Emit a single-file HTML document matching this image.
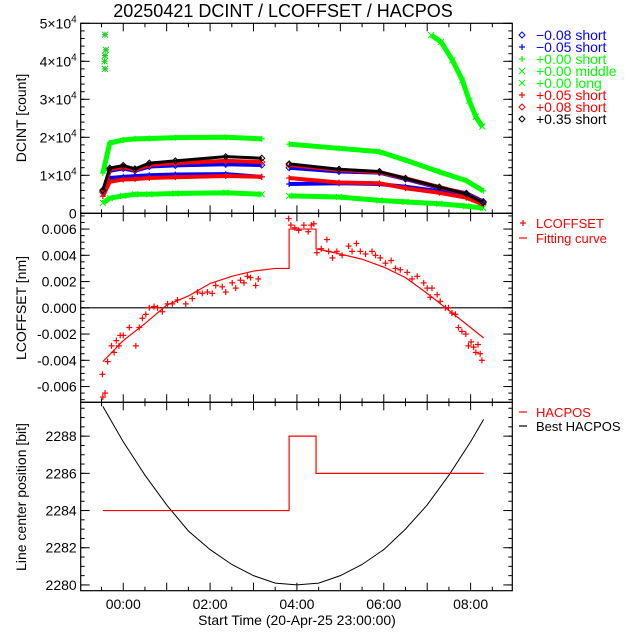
<!DOCTYPE html>
<html><head><meta charset="utf-8"><style>
html,body{margin:0;padding:0;background:#fff}
svg{display:block;font-family:"Liberation Sans",sans-serif}
</style></head><body>
<svg id="chart" width="640" height="640" viewBox="0 0 640 640" xmlns="http://www.w3.org/2000/svg">
<rect width="640" height="640" fill="#fff"/>
<text x="283" y="17" font-size="18" text-anchor="middle">20250421 DCINT / LCOFFSET / HACPOS</text>
<text x="297" y="625" font-size="14" text-anchor="middle">Start Time (20-Apr-25 23:00:00)</text>
<text transform="translate(26,118) rotate(-90)" font-size="14" text-anchor="middle">DCINT [count]</text>
<text transform="translate(26,308) rotate(-90)" font-size="14" text-anchor="middle">LCOFFSET [nm]</text>
<text transform="translate(26,497) rotate(-90)" font-size="14" text-anchor="middle">Line center position [bit]</text>
<g id="g"></g>
</svg>
<script>
// ---------- data ----------
const xTickHours = [0, 2, 4, 6, 8];
const xTickLabels = ["00:00", "02:00", "04:00", "06:00", "08:00"];
const dcTicks = [0, 10000, 20000, 30000, 40000, 50000];
const dcTickLabels = ["0", "1", "2", "3", "4", "5"];
const lcTicks = [-0.006, -0.004, -0.002, 0, 0.002, 0.004, 0.006];
const lcTickLabels = ["-0.006", "-0.004", "-0.002", "0.000", "0.002", "0.004", "0.006"];
const hcTicks = [2280, 2282, 2284, 2286, 2288];
const hcTickLabels = ["2280", "2282", "2284", "2286", "2288"];

const seg1T = [-0.47, -0.31, 0.0, 0.27, 0.6, 1.2, 2.36, 3.19];
const seg2T = [3.82, 4.97, 5.9, 6.5, 7.28, 7.9, 8.29];
const greenTop1 = [10600, 18500, 19300, 19600, 19700, 19900, 20000, 19600];
const greenTop2 = [18200, 17100, 16200, 14000, 10900, 8600, 5900];
const black1 = [6100, 11900, 12600, 11700, 13200, 13800, 14900, 14500];
const black2 = [13000, 11600, 11000, 9200, 6900, 5100, 2800];
const redDia1 = [5500, 11500, 12200, 11400, 12700, 13200, 13800, 13500];
const redDia2 = [12700, 11400, 10800, 9200, 6900, 5100, 2800];
const blueDia1 = [5800, 11200, 11800, 11200, 12300, 12600, 12900, 12700];
const blueDia2 = [12000, 11000, 10700, 9000, 6700, 5300, 3100];
const redPlus1 = [4500, 8300, 8900, 9000, 9300, 9500, 9800, 9600];
const redPlus2 = [9300, 8100, 7900, 6600, 5400, 4100, 2300];
const bluePlus1 = [5500, 9300, 9600, 9800, 10000, 10200, 10300, 9600];
const bluePlus2 = [7700, 7900, 7700, 7000, 5800, 4500, 2800];
const greenBot1 = [2700, 4000, 4600, 5000, 5000, 5200, 5400, 5000];
const greenBot2 = [4600, 4300, 3400, 3000, 2500, 1900, 1400];
const greenLongT = [7.09, 7.32, 7.58, 7.81, 7.97, 8.12, 8.27];
const greenLongV = [46900, 45100, 40300, 35000, 29600, 25400, 22800];
const outlierT = [-0.42, -0.4, -0.42, -0.43, -0.42];
const outlierV = [47000, 43000, 41500, 40000, 38000];

const lcT = [-0.48,-0.47,-0.42,-0.36,-0.27,-0.21,-0.16,-0.07,0,-0.1,0.14,0.29,0.37,0.44,0.52,0.6,0.71,0.79,0.9,1.02,1.13,1.25,1.44,1.59,1.71,1.82,1.94,2.05,2.13,2.28,2.36,2.51,2.59,2.7,2.78,2.86,2.93,3.05,3.11,
 3.81,3.86,3.95,4.04,4.16,4.26,4.33,4.39,4.46,4.56,4.69,4.73,4.82,4.92,5.04,5.19,5.27,5.37,5.46,5.58,5.73,5.81,5.92,6.04,6.17,6.27,6.38,6.54,6.65,6.77,6.92,7.0,7.11,7.07,7.23,7.3,7.42,7.49,7.57,7.65,7.72,7.8,7.89,7.95,8.01,8.07,8.17,8.12,8.22,8.26];
const lcV = [-0.00507,-0.0068,-0.0065,-0.0041,-0.0029,-0.0034,-0.0025,-0.0021,-0.0021,-0.0029,-0.0015,-0.0029,-0.0015,-0.0008,-0.0005,0.0,0.0001,0.0,-0.0003,0.0003,0.0003,0.0006,0.0003,0.0007,0.0012,0.0011,0.0012,0.0011,0.0017,0.0016,0.0012,0.0019,0.0015,0.0021,0.0019,0.0024,0.0023,0.0017,0.0022,
 0.0068,0.0063,0.0061,0.0059,0.0063,0.0058,0.0063,0.0064,0.0042,0.0045,0.0052,0.0043,0.0038,0.0043,0.0040,0.0047,0.0043,0.0049,0.0043,0.0041,0.0043,0.0040,0.0038,0.0034,0.0036,0.0030,0.0029,0.0027,0.0022,0.0024,0.0019,0.0015,0.0015,0.0008,0.0010,0.0005,0.0,0.0,-0.0004,-0.0005,-0.0015,-0.0018,-0.0020,-0.0029,-0.0026,-0.0030,-0.0028,-0.0034,-0.0035,-0.0040];
const fitT = [-0.47,0,0.5,1,1.5,2,2.5,3,3.5,3.82,3.82,4.44,4.44,5,5.5,6,6.5,7,7.5,8,8.3];
const fitV = [-0.0041,-0.0025,-0.0012,0.0002,0.0009,0.00185,0.0024,0.0028,0.003,0.003,0.006,0.006,0.0045,0.0041,0.0037,0.0031,0.0023,0.0011,-0.0002,-0.0015,-0.0023];

const hacT = [-0.47, 3.82, 3.82, 4.44, 4.44, 8.3];
const hacV = [2284, 2284, 2288, 2288, 2286, 2286];
const bestT = [-0.47,0,0.5,1,1.5,2,2.5,3,3.5,4,4.5,5,5.5,6,6.5,7,7.5,8,8.3];
const bestV = [2289.6,2287.7,2285.9,2284.3,2282.9,2281.9,2281.1,2280.5,2280.1,2280.0,2280.1,2280.5,2281.1,2281.9,2283.0,2284.3,2285.9,2287.7,2288.9];

// ---------- layout ----------
const NS = "http://www.w3.org/2000/svg";
const G = document.getElementById("g");
const L = 80.7, R = 512.3;
const x = t => L + (t + 0.98) / (8.96 + 0.98) * (R - L);
const P1 = {top: 23.3, bot: 213.3, min: 0, max: 50000};
const P2 = {top: 213.3, bot: 402.3, min: -0.0072, max: 0.0072};
const P3 = {top: 402.3, bot: 590.7, min: 2279.69, max: 2289.82};
const yf = p => v => p.bot - (v - p.min) / (p.max - p.min) * (p.bot - p.top);
const y1 = yf(P1), y2 = yf(P2), y3 = yf(P3);

function el(tag, attrs, parent) {
  const e = document.createElementNS(NS, tag);
  for (const k in attrs) e.setAttribute(k, attrs[k]);
  (parent || G).appendChild(e);
  return e;
}
function line(x1, y1_, x2, y2_, c, w, parent) {
  return el("line", {x1: x1, y1: y1_, x2: x2, y2: y2_, stroke: c, "stroke-width": w || 1}, parent);
}
function marker(type, cx, cy, c, parent) {
  const s = 3;
  if (type === "+") {
    line(cx - s, cy, cx + s, cy, c, 1.2, parent); line(cx, cy - s, cx, cy + s, c, 1.2, parent);
  } else if (type === "x") {
    line(cx - s, cy - s, cx + s, cy + s, c, 1, parent); line(cx - s, cy + s, cx + s, cy - s, c, 1, parent);
  } else if (type === "*") {
    marker("+", cx, cy, c, parent); marker("x", cx, cy, c, parent);
  } else {
    el("polygon", {points: `${cx},${cy - s} ${cx + s},${cy} ${cx},${cy + s} ${cx - s},${cy}`, fill: "none", stroke: c, "stroke-width": 1}, parent);
  }
}
function series(name, T, V, yFn, color, type, band) {
  const g = el("g", {});
  
  
  if (band) {
    el("polyline", {points: T.map((t, i) => x(t) + "," + yFn(V[i])).join(" "), fill: "none", stroke: color, "stroke-width": band, "stroke-linejoin": "round", "stroke-linecap": "butt"}, g);
  }
  T.forEach((t, i) => marker(type, x(t), yFn(V[i]), color, g));
}

function panel(name, p, ticks, labels, yFn, minorStep, sci) {
  const g = el("g", {});
  
  
  el("rect", {x: L, y: p.top, width: R - L, height: p.bot - p.top, fill: "none", stroke: "#000", "stroke-width": 1.2}, g);
  for (let h = -0.5; h <= 8.9; h += 0.5) {
    const major = Number.isInteger(h);
    const len = major ? 8 : 4;
    line(x(h), p.bot, x(h), p.bot - len, "#000", 1, g);
    line(x(h), p.top, x(h), p.top + len, "#000", 1, g);
  }
  for (let v = p.min - (p.min % minorStep); v <= p.max; v += minorStep) {
    if (v < p.min) continue;
    line(L, yFn(v), L + 4, yFn(v), "#000", 1, g);
    line(R, yFn(v), R - 4, yFn(v), "#000", 1, g);
  }
  ticks.forEach((v, i) => {
    const yy = yFn(v);
    line(L, yy, L + 9, yy, "#000", 1, g);
    line(R, yy, R - 9, yy, "#000", 1, g);
    const t = el("text", {x: L - 4, y: yy + 5, "font-size": 14, "text-anchor": "end"}, g);
    
    
    if (sci && labels[i] !== "0") {
      t.textContent = labels[i] + "×10";
      const s = el("tspan", {dy: -6, "font-size": 10}, t);
      s.textContent = "4";
    } else t.textContent = labels[i];
  });
}
panel("dcint-panel", P1, dcTicks, dcTickLabels, y1, 2000, true);
panel("lcoffset-panel", P2, lcTicks, lcTickLabels, y2, 0.0005, false);
panel("hacpos-panel", P3, hcTicks, hcTickLabels, y3, 0.5, false);
xTickHours.forEach((h, i) => {
  const t = el("text", {x: x(h), y: 609, "font-size": 14, "text-anchor": "middle"});
  
  
  t.textContent = xTickLabels[i];
});

const BLUE = "#0000ff", GREEN = "#00ff00", RED = "#ff0000", BLACK = "#000";
[[seg1T, greenTop1], [seg2T, greenTop2]].forEach(s => series("green-short-series", s[0], s[1], y1, GREEN, "+", 5));
[[seg1T, greenBot1], [seg2T, greenBot2]].forEach(s => series("green-middle-series", s[0], s[1], y1, GREEN, "x", 5));
[[seg1T, bluePlus1], [seg2T, bluePlus2]].forEach(s => series("blue-plus-series", s[0], s[1], y1, BLUE, "+", 4));
[[seg1T, redPlus1], [seg2T, redPlus2]].forEach(s => series("red-plus-series", s[0], s[1], y1, RED, "+", 4));
[[seg1T, blueDia1], [seg2T, blueDia2]].forEach(s => series("blue-diamond-series", s[0], s[1], y1, BLUE, "d", 4));
[[seg1T, redDia1], [seg2T, redDia2]].forEach(s => series("red-diamond-series", s[0], s[1], y1, RED, "d", 4));
[[seg1T, black1], [seg2T, black2]].forEach(s => series("black-diamond-series", s[0], s[1], y1, BLACK, "d", 3));
series("green-long-series", greenLongT, greenLongV, y1, GREEN, "x", 5);
series("green-outliers", outlierT, outlierV, y1, "#22cc22", "*", 0);

line(L, y2(0), R, y2(0), "#000", 1.2);
const fit = el("polyline", {points: fitT.map((t, i) => x(t) + "," + y2(fitV[i])).join(" "), fill: "none", stroke: RED, "stroke-width": 1.2});


series("lcoffset-points", lcT, lcV, y2, RED, "+", 0);

const best = el("polyline", {points: bestT.map((t, i) => x(t) + "," + y3(bestV[i])).join(" "), fill: "none", stroke: BLACK, "stroke-width": 1});


const hac = el("polyline", {points: hacT.map((t, i) => x(t) + "," + y3(hacV[i])).join(" "), fill: "none", stroke: RED, "stroke-width": 1.2});



const legTop = [["d", BLUE, "\u22120.08 short"], ["+", BLUE, "\u22120.05 short"], ["+", GREEN, "+0.00 short"], ["x", GREEN, "+0.00 middle"], ["x", GREEN, "+0.00 long"], ["+", RED, "+0.05 short"], ["d", RED, "+0.08 short"], ["d", BLACK, "+0.35 short"]];
legTop.forEach((e, i) => {
  const g = el("g", {});
  
  
  const yy = 35 + i * 12;
  marker(e[0], 522, yy, e[1], g);
  const t = el("text", {x: 536, y: yy + 5, "font-size": 14, fill: e[1]}, g);
  t.textContent = e[2];
});
function legLine(yy, color, label, mk) {
  const g = el("g", {});
  
  
  if (mk) marker("+", 523, yy, color, g); else line(519, yy, 527, yy, color, 1.2, g);
  const t = el("text", {x: 536, y: yy + 5, "font-size": 13, fill: color}, g);
  t.textContent = label;
}
legLine(223, RED, "LCOFFSET", true);
legLine(238, RED, "Fitting curve", false);
legLine(412, RED, "HACPOS", false);
legLine(426, BLACK, "Best HACPOS", false);
</script>
</body></html>
